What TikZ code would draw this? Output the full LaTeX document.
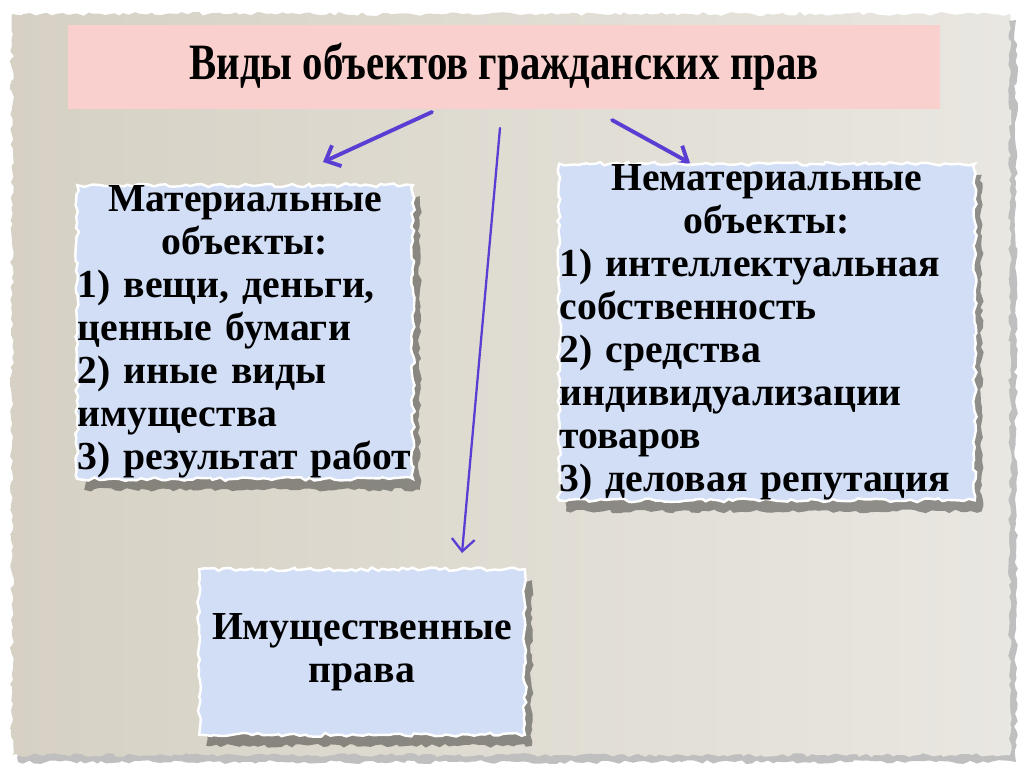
\documentclass[tikz,border=0pt]{standalone}
\usepackage{fontspec}
\setmainfont{Liberation Serif}
\usepackage{graphicx}
\usetikzlibrary{calc,arrows.meta,decorations.pathmorphing}
\definecolor{paperdk}{HTML}{D6D1C4}
\definecolor{paperlt}{HTML}{E9E7E1}
\definecolor{titlepink}{HTML}{F9D0CD}
\definecolor{cardblue}{HTML}{D1DEF6}
\definecolor{linkc}{HTML}{5A3ED4}
\pgfdeclarelayer{paper}
\pgfdeclarelayer{links}
\pgfdeclarelayer{cards}
\pgfsetlayers{paper,links,cards,main}
\tikzset{
  torn/.style={decorate, decoration={random steps, segment length=3pt, amplitude=1.1pt}},
  card/.style={torn, fill=cardblue, draw=white, line width=1.4pt},
  cardshadow/.style={torn, fill=black, opacity=0.38},
  lbl/.style={font=\fontsize{22.6}{24.5}\selectfont\bfseries, inner sep=0pt},
  link/.style={draw=linkc, line width=2.2pt, line cap=round, -{Straight Barb[length=7pt,width=13pt]}},
  thinlink/.style={draw=linkc, line width=1.3pt, line cap=round, -{Straight Barb[length=7pt,width=13pt]}},
}
% torn card with its shadow, taken from a node's frame
\newcommand\tornbox[1]{%
  \fill[cardshadow] ($(#1.north west)+(7,11)$) rectangle ($(#1.south east)+(7,11)$);
  \filldraw[card] (#1.north west) rectangle (#1.south east);}

\begin{document}
\begin{tikzpicture}[x=0.02cm,y=-0.02cm]
  \useasboundingbox (0,0) rectangle (1024,768);
  \pgfmathsetseed{11}

  % headline and the three groups
  \node[lbl, fill=titlepink, minimum width=17.44cm, minimum height=1.7cm,
        font=\fontsize{29}{32}\selectfont\bfseries] (title) at (504,67)
        {\raisebox{-0.12cm}{\scalebox{0.8}[1]{Виды объектов гражданских прав}}};
  \node[lbl, text width=6.7cm, minimum height=5.86cm, align=left] (mat) at (245,332)
        {\centering Материальные\\ объекты:\par\raggedright
         1) вещи, деньги,\\ ценные бумаги\\ 2) иные виды\\ имущества\\ 3) результат работ};
  \node[lbl, text width=8.3cm, minimum height=6.7cm, align=left] (nonmat) at (767,332)
        {\centering Нематериальные\\ объекты:\par\raggedright
         1) интеллектуальная\\ собственность\\ 2) средства\\ индивидуализации\\ товаров\\ 3) деловая репутация};
  \node[lbl, text width=6.5cm, minimum height=3.3cm, align=center] (prop) at (362,652)
        {Имущественные\\ права};

  \coordinate (l0) at (432,112);
  \coordinate (l1) at (323,162);
  \coordinate (m0) at (500,128);
  \coordinate (m1) at (462,553);
  \coordinate (r0) at (612,120);
  \coordinate (r1) at (690,163);

  \begin{pgfonlayer}{paper}
    \fill[white] (0,0) rectangle (1024,768);
    \fill[torn, black, opacity=0.25] (18,20) rectangle (1016,762);
    \shade[torn, left color=paperdk, right color=paperlt] (12,14) rectangle (1010,755);
  \end{pgfonlayer}

  \begin{pgfonlayer}{links}
    \draw[link] (l0) -- (l1);
    \draw[thinlink] (m0) -- (m1);
    \draw[link] (r0) -- (r1);
  \end{pgfonlayer}

  \begin{pgfonlayer}{cards}
    \tornbox{mat}
    \tornbox{nonmat}
    \tornbox{prop}
  \end{pgfonlayer}
\end{tikzpicture}
\end{document}
